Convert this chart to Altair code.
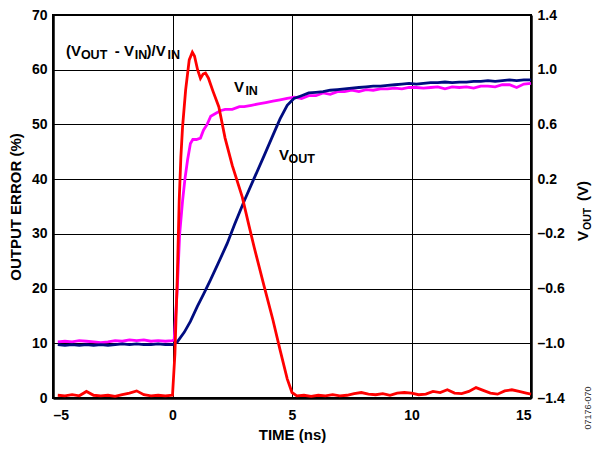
import altair as alt
import pandas as pd

# ---------------- data ----------------
# (VOUT - VIN)/VIN output error, %  (left axis)
err_t = [-4.8, -4.5, -4.2, -3.9, -3.6, -3.3, -3.0, -2.7, -2.4, -2.1, -1.8, -1.5, -1.2, -0.9,
         -0.6, -0.3, 0.0, 0.1, 0.2, 0.28, 0.35, 0.42, 0.55, 0.7, 0.83, 0.92, 1.05, 1.17, 1.28,
         1.38, 1.5, 1.7, 1.94, 2.2, 2.5, 2.92, 3.2, 3.42, 3.83, 4.2, 4.5, 4.8, 5.0, 5.2, 5.5,
         5.8, 6.1, 6.4, 6.7, 7.0, 7.3, 7.6, 7.9, 8.2, 8.5, 8.8, 9.1, 9.4, 9.7, 10.0, 10.3, 10.6,
         10.9, 11.2, 11.5, 11.8, 12.1, 12.4, 12.7, 13.0, 13.3, 13.6, 13.9, 14.2, 14.5, 14.8, 15.0]
err_v = [0.5, 0.4, 0.6, 0.4, 1.2, 0.5, 0.4, 0.5, 0.3, 0.6, 0.9, 1.3, 0.6, 0.4,
         0.5, 0.4, 0.5, 8.0, 22.0, 36.0, 44.0, 49.5, 56.3, 61.8, 63.2, 62.5, 60.0, 58.4, 59.2,
         59.4, 58.5, 56.0, 53.2, 47.5, 42.5, 36.7, 31.5, 27.5, 20.5, 14.3, 8.8, 3.5, 1.0, 0.4, 0.5,
         0.3, 0.5, 0.4, 0.6, 0.4, 0.5, 0.8, 1.0, 0.7, 0.6, 0.8, 0.5, 0.9, 1.0, 0.9, 0.6, 0.7,
         1.2, 1.0, 1.5, 0.9, 0.8, 1.2, 1.9, 1.4, 0.9, 0.7, 1.3, 1.5, 1.2, 0.9, 0.7]

# VIN, volts (right axis)
vin_t = [-4.8, -4.5, -4.2, -3.9, -3.6, -3.3, -3.0, -2.7, -2.4, -2.1, -1.8, -1.5, -1.2, -0.9,
         -0.6, -0.3, 0.0, 0.07, 0.2, 0.3, 0.42, 0.52, 0.63, 0.75, 0.85, 1.0, 1.17, 1.3, 1.45,
         1.6, 1.8, 2.0, 2.2, 2.5, 2.8, 3.0, 3.3, 3.6, 3.9, 4.2, 4.5, 4.8, 5.1, 5.4, 5.7, 6.0,
         6.3, 6.6, 6.9, 7.2, 7.5, 7.8, 8.1, 8.4, 8.7, 9.0, 9.3, 9.6, 9.9, 10.2, 10.5, 10.8,
         11.1, 11.4, 11.7, 12.0, 12.3, 12.6, 12.9, 13.2, 13.5, 13.8, 14.1, 14.4, 14.7, 15.0]
vin_v = [-0.99, -0.985, -0.99, -0.98, -0.985, -0.99, -0.995, -0.99, -0.98, -0.985, -0.975,
         -0.98, -0.975, -0.985, -0.98, -0.985, -0.98, -0.975, -0.6, -0.2, 0.04, 0.2, 0.34, 0.46,
         0.49, 0.49, 0.50, 0.56, 0.60, 0.66, 0.68, 0.70, 0.71, 0.71, 0.73, 0.73, 0.74, 0.75,
         0.76, 0.77, 0.78, 0.79, 0.80, 0.79, 0.81, 0.81, 0.83, 0.82, 0.84, 0.84, 0.85, 0.84,
         0.855, 0.85, 0.86, 0.86, 0.865, 0.86, 0.87, 0.87, 0.865, 0.87, 0.875, 0.86, 0.875,
         0.87, 0.875, 0.865, 0.88, 0.88, 0.875, 0.89, 0.89, 0.87, 0.895, 0.90]

# VOUT, volts (right axis)
vout_t = [-4.8, -4.5, -4.2, -3.9, -3.6, -3.3, -3.0, -2.7, -2.4, -2.1, -1.8, -1.5, -1.2, -0.9,
          -0.6, -0.3, 0.0, 0.2, 0.49, 0.75, 1.04, 1.3, 1.58, 1.9, 2.29, 2.6, 3.0, 3.4, 3.83,
          4.2, 4.5, 4.8, 5.08, 5.4, 5.7, 6.0, 6.3, 6.6, 6.9, 7.2, 7.5, 7.8, 8.1, 8.4, 8.7, 9.0,
          9.3, 9.6, 9.9, 10.2, 10.5, 10.8, 11.1, 11.4, 11.7, 12.0, 12.3, 12.6, 12.9, 13.2, 13.5,
          13.8, 14.1, 14.4, 14.7, 15.0]
vout_v = [-1.01, -1.015, -1.01, -1.015, -1.01, -1.015, -1.01, -1.015, -1.01, -1.005, -1.01,
          -1.005, -1.01, -1.01, -1.005, -1.01, -1.01, -0.99, -0.92, -0.84, -0.73, -0.64, -0.54,
          -0.42, -0.27, -0.13, 0.04, 0.20, 0.37, 0.52, 0.64, 0.74, 0.79, 0.81, 0.83, 0.835,
          0.84, 0.85, 0.855, 0.86, 0.865, 0.87, 0.875, 0.88, 0.88, 0.885, 0.89, 0.895, 0.90,
          0.895, 0.90, 0.905, 0.905, 0.91, 0.905, 0.91, 0.91, 0.915, 0.915, 0.92, 0.915, 0.92,
          0.925, 0.92, 0.925, 0.925]

x_ticks = [-5, 0, 5, 10, 15]
left_ticks = [0, 10, 20, 30, 40, 50, 60, 70]
right_ticks = [-1.4, -1.0, -0.6, -0.2, 0.2, 0.6, 1.0, 1.4]

# in-plot labels: text pieces (main size / subscript size), anchored in data units
lab_text = ["(V", "OUT", "- V", "IN", ")/V", "IN", "V", "IN", "V", "OUT"]
lab_sub = [False, True, False, True, False, True, False, True, False, True]
lab_t = [-4.458, -3.833, -2.417, -1.583, -1.083, -0.208, 2.57, 3.05, 4.458, 4.85]
lab_y = [62.5, 61.96, 62.5, 61.96, 62.5, 61.96, 56.0, 55.4, 43.5, 43.0]

FONT = "Liberation Sans"
RED, MAG, NAVY = "#ff0000", "#ff00ff", "#000c80"

err_df = pd.DataFrame({"t": err_t, "v": err_v})
vin_df = pd.DataFrame({"t": vin_t, "v": vin_v})
vout_df = pd.DataFrame({"t": vout_t, "v": vout_v})
lab_df = pd.DataFrame({"t": lab_t, "v": lab_y, "text": lab_text, "sub": lab_sub})

x_enc = alt.X("t:Q", scale=alt.Scale(domain=[-5, 15], nice=False),
              axis=alt.Axis(values=x_ticks, title="TIME (ns)", grid=True,
                            labelExpr="datum.value < 0 ? '\u2013' + abs(datum.value) : '' + datum.value"))
y_left = alt.Y("v:Q", scale=alt.Scale(domain=[0, 70], nice=False),
               axis=alt.Axis(values=left_ticks, title="OUTPUT ERROR (%)", grid=True,
                             orient="left", titlePadding=8))
y_right = alt.Y("v:Q", scale=alt.Scale(domain=[-1.4, 1.4], nice=False),
                axis=alt.Axis(values=right_ticks, title=None, grid=False, orient="right",
                              labelAlign="left",
                              labelExpr="(datum.value < 0 ? '\u2013' : '') + format(abs(datum.value), '.1f')"))

vin = alt.Chart(vin_df).mark_line(color=MAG, strokeWidth=2.8).encode(x=x_enc, y=y_right, order="t:Q")
vout = alt.Chart(vout_df).mark_line(color=NAVY, strokeWidth=2.8).encode(x=x_enc, y=y_right, order="t:Q")
volts = alt.layer(vin, vout)

red = alt.Chart(err_df).mark_line(color=RED, strokeWidth=2.8).encode(x=x_enc, y=y_left, order="t:Q")
main_txt = alt.Chart(lab_df).transform_filter("!datum.sub").mark_text(
    font=FONT, fontWeight="bold", fontSize=15, align="left", baseline="alphabetic", color="black"
).encode(x=x_enc, y=y_left, text="text:N")
sub_txt = alt.Chart(lab_df).transform_filter("datum.sub").mark_text(
    font=FONT, fontWeight="bold", fontSize=12.5, align="left", baseline="alphabetic", color="black"
).encode(x=x_enc, y=y_left, text="text:N")
left_group = alt.layer(red, main_txt, sub_txt)


def fixed_text(txt, px, py, size, color="black", weight="bold", align="left"):
    return alt.Chart(pd.DataFrame({"a": [0]})).mark_text(
        font=FONT, fontWeight=weight, fontSize=size, angle=270, align=align,
        baseline="alphabetic", color=color
    ).encode(x=alt.value(px), y=alt.value(py), text=alt.value(txt))


# rotated right-axis title "V_OUT (V)" built from pieces (plot-area pixels)
rt_v = fixed_text("V", 535, 226, 15)
rt_out = fixed_text("OUT", 538, 215, 10.5)
rt_rest = fixed_text("(V)", 535, 186, 15)
code = fixed_text("07176-070", 538, 393, 9, color="#333333", weight="normal", align="center")

chart = alt.layer(volts, left_group, rt_v, rt_out, rt_rest, code).resolve_scale(
    y="independent"
).properties(
    width=478, height=383,
    autosize=alt.AutoSizeParams(type="none"),
    padding={"left": 45, "top": 7, "right": 61, "bottom": 46},
).configure_view(
    stroke="black", strokeWidth=2
).configure_axis(
    domainColor="black", domainWidth=2.5, gridColor="black", gridWidth=1, gridOpacity=1,
    ticks=False, tickSize=0, labelFont=FONT, labelFontWeight="bold", labelFontSize=14,
    labelColor="black", labelPadding=6, titleFont=FONT, titleFontWeight="bold",
    titleFontSize=15, titleColor="black",
).configure_axisX(
    labelPadding=10, titlePadding=5,
)

chart.save("out.html", embed_options={"renderer": "svg", "actions": False})
